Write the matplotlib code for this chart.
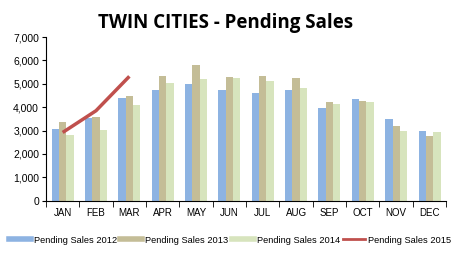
import matplotlib
matplotlib.use("Agg")
import matplotlib.pyplot as plt
from matplotlib.lines import Line2D
import numpy as np

months = ["JAN", "FEB", "MAR", "APR", "MAY", "JUN", "JUL", "AUG", "SEP", "OCT", "NOV", "DEC"]
sales_2012 = [3060, 3550, 4390, 4750, 5000, 4750, 4590, 4750, 3960, 4350, 3490, 2980]
sales_2013 = [3380, 3600, 4500, 5350, 5820, 5310, 5350, 5260, 4230, 4280, 3200, 2780]
sales_2014 = [2820, 3030, 4080, 5020, 5220, 5260, 5140, 4840, 4150, 4230, 2980, 2920]
sales_2015 = [2920, 3850, 5320]
labels = ["Pending Sales 2012", "Pending Sales 2013", "Pending Sales 2014", "Pending Sales 2015"]

colors = ["#8DB3E2", "#C4BD97", "#D7E4BD"]
line_color = "#C0504D"

fig = plt.figure(figsize=(4.6, 2.61), dpi=100)
ax = fig.add_axes([0.1, 0.231, 0.87, 0.627])

x = np.arange(len(months))
w = 0.22
for i, (vals, c) in enumerate(zip([sales_2012, sales_2013, sales_2014], colors)):
    ax.bar(x + (i - 1) * w, vals, width=w, color=c, label=labels[i])

ax.plot(x[:len(sales_2015)], sales_2015, color=line_color, linewidth=2.5,
        solid_capstyle="butt", label=labels[3])

ax.set_xlim(-0.5, 11.5)
ax.set_ylim(0, 7000)
ax.set_yticks(range(0, 7001, 1000))
ax.set_yticklabels([f"{v:,}" for v in range(0, 7001, 1000)])
ax.set_xticks(x)
ax.set_xticklabels(months)
ax.set_xticks(np.arange(-0.5, 12, 1), minor=True)
ax.tick_params(axis="x", which="major", length=0, pad=5)
ax.tick_params(axis="x", which="minor", length=4, direction="out")
ax.tick_params(axis="y", length=3, direction="out", pad=2)
for lbl in ax.get_xticklabels():
    lbl.set_fontsize(7)
    lbl.set_family("Liberation Sans")
for lbl in ax.get_yticklabels():
    lbl.set_fontsize(7.5)
    lbl.set_family("Liberation Sans")
ax.spines["top"].set_visible(False)
ax.spines["right"].set_visible(False)

fig.text(0.49, 0.91, "TWIN CITIES - Pending Sales", ha="center", va="center",
         fontsize=13.5, fontweight="bold", family="Open Sans")

hs = [Line2D([0], [0], color=c, linewidth=4) for c in colors] + \
     [Line2D([0], [0], color=line_color, linewidth=2)]
fig.legend(hs, labels, loc="center", bbox_to_anchor=(0.5, 0.08), ncol=4, frameon=False,
           prop={"family": "Liberation Sans", "size": 6.7}, handlelength=2.4,
           handletextpad=0.3, columnspacing=0.35)

fig.savefig("out.png", dpi=100)
